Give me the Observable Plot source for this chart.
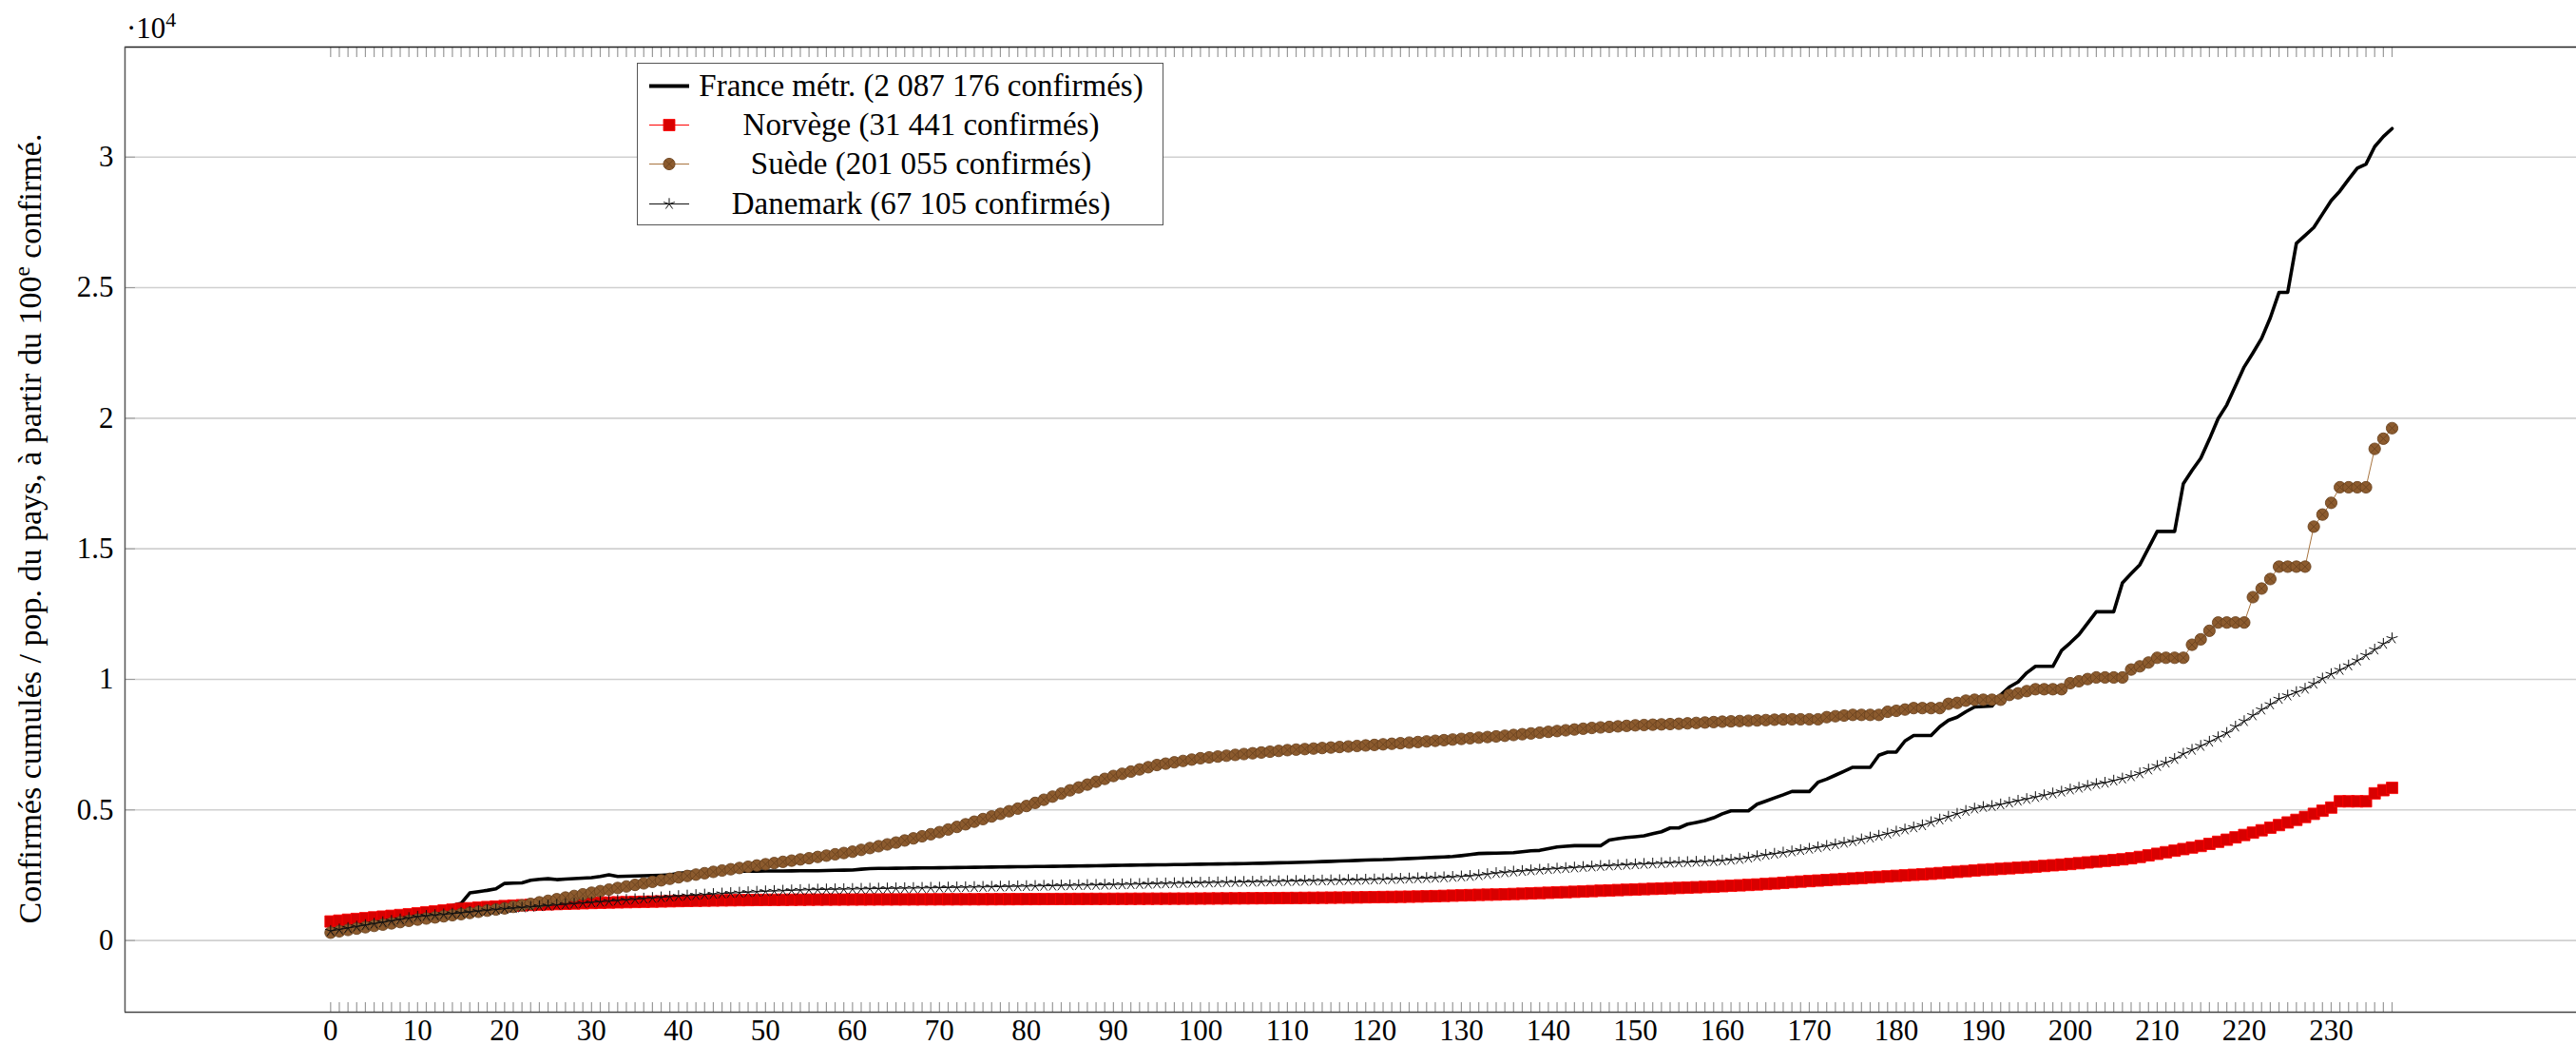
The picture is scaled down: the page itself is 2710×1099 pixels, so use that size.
<!DOCTYPE html>
<html><head><meta charset="utf-8">
<script src="https://cdn.jsdelivr.net/npm/d3@7"></script>
<script src="https://cdn.jsdelivr.net/npm/@observablehq/plot@0.6"></script>
<style>
html,body{margin:0;padding:0;background:#fff;}
#wrap{position:relative;width:2710px;height:1099px;font-family:"Liberation Serif",serif;color:#000;}
#legend{position:absolute;left:670px;top:66px;width:554px;height:171px;border:1.5px solid #555;background:#fff;box-sizing:border-box;}
.row{position:absolute;left:0;width:100%;height:41px;}
.row svg{position:absolute;left:10px;top:0;}
.row .lab{position:absolute;left:58px;width:480px;text-align:center;font-size:33px;line-height:41px;white-space:nowrap;}
</style></head><body><div id="wrap"></div>
<script>
// ---- data (values are confirmed cases per million inhabitants) ----
const countryNames = ["France métr.", "Norvège", "Suède", "Danemark"];
const countryTotals = ["2 087 176", "31 441", "201 055", "67 105"];

const franceValues = [
500,560,625,690,750,815,880,940,1000,1060,
1120,1180,1240,1290,1340,1420,1821,1870,1920,1979,
2185,2195,2209,2307,2340,2367,2331,2350,2370,2390,
2404,2450,2513,2452,2460,2470,2480,2490,2500,2513,
2570,2610,2618,2625,2630,2636,2646,2650,2654,2657,
2660,2662,2664,2666,2668,2670,2671,2680,2688,2695,
2700,2730,2750,2760,2764,2768,2770,2774,2778,2782,
2786,2790,2795,2799,2803,2808,2812,2816,2820,2824,
2828,2832,2836,2840,2845,2849,2854,2858,2863,2868,
2877,2880,2884,2888,2892,2896,2900,2905,2910,2915,
2920,2925,2930,2935,2940,2946,2952,2958,2966,2974,
2982,2990,3000,3010,3020,3030,3042,3055,3066,3078,
3090,3096,3110,3125,3140,3155,3170,3185,3200,3217,
3250,3290,3330,3339,3345,3352,3363,3400,3436,3450,
3520,3581,3610,3630,3630,3630,3630,3848,3900,3946,
3975,4006,4090,4164,4310,4310,4455,4520,4589,4700,
4850,4965,4965,4965,5220,5340,5463,5580,5706,5706,
5706,6060,6180,6330,6480,6632,6632,6632,7094,7215,
7215,7641,7848,7848,7848,8188,8431,8550,8760,8942,
8960,8979,9404,9708,9900,10250,10499,10499,10499,11107,
11400,11715,12150,12590,12590,12590,13697,14050,14390,15030,
15667,15667,15667,17491,18000,18463,19200,19988,20510,21240,
21966,22500,23058,23847,24818,24818,26699,27000,27306,27820,
28337,28701,29150,29575,29733,30400,30789,31092];

const norwayValues = [
728,760,795,825,855,886,915,945,975,1005,
1040,1080,1115,1150,1180,1210,1235,1258,1280,1300,
1318,1335,1350,1362,1374,1385,1396,1406,1416,1426,
1436,1445,1453,1461,1468,1475,1482,1489,1496,1503,
1510,1516,1522,1527,1532,1537,1541,1545,1548,1551,
1554,1556,1558,1560,1562,1564,1566,1567,1568,1569,
1570,1571,1572,1573,1574,1574,1575,1575,1576,1577,
1577,1578,1578,1579,1580,1580,1581,1582,1583,1584,
1585,1586,1587,1588,1589,1590,1591,1592,1593,1594,
1595,1596,1597,1598,1599,1600,1601,1602,1603,1604,
1606,1608,1610,1612,1614,1616,1618,1620,1622,1624,
1626,1628,1631,1634,1637,1640,1643,1646,1650,1655,
1660,1664,1668,1673,1678,1684,1691,1699,1708,1718,
1728,1738,1748,1755,1760,1770,1781,1792,1804,1816,
1828,1840,1852,1865,1878,1892,1906,1918,1930,1942,
1954,1966,1978,1990,2002,2014,2026,2038,2050,2064,
2080,2096,2112,2128,2145,2165,2185,2208,2232,2255,
2275,2295,2315,2335,2355,2375,2395,2415,2435,2455,
2475,2495,2515,2535,2555,2580,2605,2630,2655,2680,
2705,2725,2745,2765,2785,2805,2830,2855,2880,2905,
2930,2960,2990,3020,3050,3080,3110,3150,3200,3260,
3320,3380,3440,3500,3560,3620,3700,3780,3860,3950,
4040,4130,4220,4320,4420,4520,4620,4730,4850,4970,
5090,5330,5330,5330,5330,5635,5756,5845];

const swedenValues = [
300,352,404,456,508,560,608,656,704,752,
800,842,884,926,968,1010,1054,1098,1142,1186,
1230,1288,1346,1404,1462,1520,1582,1644,1706,1768,
1830,1890,1950,2010,2070,2130,2188,2246,2304,2362,
2420,2472,2524,2576,2628,2680,2728,2776,2824,2872,
2920,2966,3012,3058,3104,3150,3200,3250,3300,3350,
3400,3470,3540,3610,3680,3750,3830,3910,3990,4070,
4150,4250,4350,4450,4550,4650,4750,4850,4950,5050,
5150,5270,5390,5510,5630,5750,5860,5970,6080,6190,
6300,6384,6468,6552,6636,6720,6772,6824,6876,6928,
6980,7012,7044,7076,7108,7140,7170,7200,7230,7260,
7290,7310,7330,7350,7370,7390,7410,7430,7450,7470,
7490,7512,7534,7556,7578,7600,7624,7648,7672,7696,
7720,7744,7768,7792,7816,7840,7870,7900,7930,7960,
7990,8020,8050,8080,8110,8140,8160,8180,8200,8220,
8240,8252,8264,8276,8288,8300,8316,8332,8348,8364,
8380,8392,8404,8416,8428,8440,8455,8465,8470,8470,
8470,8470,8553,8589,8614,8640,8640,8640,8640,8760,
8796,8845,8900,8900,8900,8900,9064,9100,9185,9220,
9220,9220,9220,9404,9465,9550,9623,9623,9623,9623,
9854,9927,10012,10073,10073,10073,10073,10377,10499,10645,
10827,10827,10827,10827,11326,11533,11861,12177,12177,12177,
12177,13149,13478,13843,14317,14317,14317,14317,15849,16311,
16761,17357,17357,17357,17357,18828,19217,19620];

const denmarkValues = [
364,420,476,532,588,643,697,751,805,858,
910,940,970,1000,1028,1056,1088,1120,1152,1183,
1214,1238,1262,1286,1310,1335,1359,1383,1408,1432,
1457,1481,1505,1530,1554,1578,1602,1627,1651,1676,
1700,1720,1739,1758,1778,1797,1814,1831,1848,1865,
1882,1894,1906,1918,1930,1942,1948,1954,1960,1966,
1972,1977,1982,1987,1992,1997,2002,2007,2012,2017,
2022,2027,2033,2039,2045,2051,2057,2063,2069,2075,
2081,2087,2093,2099,2105,2111,2117,2123,2129,2135,
2141,2148,2155,2162,2170,2178,2185,2192,2199,2206,
2212,2218,2224,2230,2236,2242,2248,2254,2260,2266,
2272,2278,2284,2290,2296,2302,2308,2314,2320,2328,
2336,2343,2352,2362,2372,2382,2392,2404,2418,2434,
2452,2470,2500,2540,2580,2610,2636,2660,2685,2708,
2731,2752,2772,2792,2812,2832,2852,2868,2884,2900,
2916,2932,2946,2960,2974,2988,3000,3012,3024,3035,
3060,3090,3120,3170,3225,3278,3320,3365,3410,3460,
3510,3565,3620,3680,3740,3800,3870,3940,4010,4090,
4170,4250,4330,4410,4530,4630,4740,4850,4960,5050,
5110,5148,5210,5280,5350,5416,5490,5560,5630,5700,
5780,5850,5920,5990,6040,6120,6200,6290,6400,6546,
6680,6810,6950,7150,7300,7450,7610,7780,7945,8190,
8400,8620,8840,9040,9250,9380,9510,9640,9830,10030,
10200,10360,10530,10720,10924,11140,11360,11569];

const xTickValues = [0,10,20,30,40,50,60,70,80,90,100,110,120,130,140,150,160,170,180,190,200,210,220,230];
const yTickValues = [0,5000,10000,15000,20000,25000,30000];
const yTickLabels = ["0","0.5","1","1.5","2","2.5","3"];
const xDomain = [-23.64, 258.2];
const yDomain = [-2746, 34215];

// ---- styles ----
const colors = {france:"#000000", norway:"#ff0000", norwayFill:"#d80000", swedenLine:"#a8743f", swedenFill:"#8c5b2e", swedenStroke:"#6b431f", denmark:"#111111"};
const sizes = {norway: 6.8, sweden: 6.1, denmark: 6.2};

const toRows = (vals) => vals.map((v, i) => ({day: i, value: v}));
const france = toRows(franceValues), norway = toRows(norwayValues), sweden = toRows(swedenValues), denmark = toRows(denmarkValues);
const allDays = france.map(d => d.day);

const otimes = {draw(ctx, size){ const r = Math.sqrt(size/Math.PI); ctx.moveTo(r,0); ctx.arc(0,0,r,0,2*Math.PI); const k=r*0.7071; ctx.moveTo(-k,-k); ctx.lineTo(k,k); ctx.moveTo(-k,k); ctx.lineTo(k,-k);} };
const star = {draw(ctx, size){ const r = Math.sqrt(size/Math.PI); for(let i=0;i<5;i++){const a=-Math.PI/2+i*2*Math.PI/5; ctx.moveTo(0,0); ctx.lineTo(r*Math.cos(a), r*Math.sin(a));} } };

const chart = Plot.plot({
  width: 2710, height: 1099,
  marginTop: 49, marginBottom: 35, marginLeft: 131, marginRight: 0,
  x: {domain: xDomain},
  y: {domain: yDomain},
  style: {fontFamily: "'Liberation Serif', serif", fontSize: "31px", color: "#000", background: "#fff", overflow: "visible"},
  marks: [
    Plot.ruleY(yTickValues, {stroke: "#d0d0d0", strokeWidth: 1.6}),
    Plot.axisY({ticks: yTickValues, tickSize: 0, tickPadding: 12, tickFormat: (d) => yTickLabels[yTickValues.indexOf(d)], label: null}),
    Plot.axisY({ticks: yTickValues, tickSize: 11, dx: 11, tickFormat: () => "", label: null, stroke: "#999"}),
    Plot.axisX({ticks: xTickValues, tickSize: 0, tickPadding: 7, tickFormat: d => String(d), label: null}),
    Plot.axisX({anchor: "bottom", ticks: allDays, tickSize: 10, dy: -10, tickFormat: () => "", label: null, stroke: "#999", strokeWidth: 1.2}),
    Plot.axisX({anchor: "top", ticks: allDays, tickSize: 10, dy: 10, tickFormat: () => "", label: null, stroke: "#999", strokeWidth: 1.2}),
    Plot.ruleY([yDomain[0]], {stroke: "#444", strokeWidth: 1.5}),
    Plot.ruleY([yDomain[1]], {stroke: "#222", strokeWidth: 1.5}),
    Plot.ruleX([xDomain[0]], {stroke: "#555", strokeWidth: 1.5}),
    Plot.line(france, {x: "day", y: "value", stroke: colors.france, strokeWidth: 3.6}),
    Plot.line(norway, {x: "day", y: "value", stroke: colors.norway, strokeWidth: 1}),
    Plot.dot(norway, {x: "day", y: "value", symbol: "square", r: sizes.norway, fill: colors.norwayFill, stroke: colors.norway, strokeWidth: 0.8}),
    Plot.line(sweden, {x: "day", y: "value", stroke: colors.swedenLine, strokeWidth: 1}),
    Plot.dot(sweden, {x: "day", y: "value", symbol: otimes, r: sizes.sweden, fill: colors.swedenFill, stroke: colors.swedenStroke, strokeWidth: 0.9}),
    Plot.line(denmark, {x: "day", y: "value", stroke: colors.denmark, strokeWidth: 1}),
    Plot.dot(denmark, {x: "day", y: "value", symbol: star, r: sizes.denmark, fill: "none", stroke: colors.denmark, strokeWidth: 1})
  ]
});

const wrap = document.getElementById("wrap");
wrap.appendChild(chart);
const svg = d3.select(chart);

// y axis label
const yl = svg.append("text")
  .attr("transform", "translate(43,556) rotate(-90)")
  .attr("text-anchor", "middle")
  .attr("font-family", "'Liberation Serif', serif")
  .attr("font-size", 34)
  .attr("fill", "#000");
yl.append("tspan").text("Confirmés cumulés / pop. du pays, à partir du 100");
yl.append("tspan").attr("font-size", 23).attr("dy", -12).text("e");
yl.append("tspan").attr("dy", 12).text(" confirmé.");

// multiplier label
const ml = svg.append("text").attr("x", 133).attr("y", 40).attr("text-anchor", "start")
  .attr("font-family", "'Liberation Serif', serif").attr("font-size", 31).attr("fill", "#000");
ml.append("tspan").text("·10");
ml.append("tspan").attr("font-size", 22).attr("dy", -12).text("4");

// legend
const legend = d3.select(wrap).append("div").attr("id", "legend");
const kinds = ["france", "norway", "sweden", "denmark"];
kinds.forEach((k, i) => {
  const row = legend.append("div").attr("class", "row").style("top", (3 + i * 41.2) + "px");
  const s = row.append("svg").attr("width", 46).attr("height", 41);
  if (k === "france") {
    s.append("line").attr("x1", 2).attr("x2", 44).attr("y1", 20.5).attr("y2", 20.5).attr("stroke", colors.france).attr("stroke-width", 4);
  } else if (k === "norway") {
    s.append("line").attr("x1", 2).attr("x2", 44).attr("y1", 20.5).attr("y2", 20.5).attr("stroke", colors.norway).attr("stroke-width", 1);
    s.append("path").attr("transform", "translate(23,20.5)").attr("d", d3.symbol(d3.symbolSquare, Math.PI * sizes.norway * sizes.norway)()).attr("fill", colors.norwayFill).attr("stroke", colors.norway).attr("stroke-width", 0.8);
  } else if (k === "sweden") {
    s.append("line").attr("x1", 2).attr("x2", 44).attr("y1", 20.5).attr("y2", 20.5).attr("stroke", colors.swedenLine).attr("stroke-width", 1);
    s.append("path").attr("transform", "translate(23,20.5)").attr("d", d3.symbol(otimes, Math.PI * sizes.sweden * sizes.sweden)()).attr("fill", colors.swedenFill).attr("stroke", colors.swedenStroke).attr("stroke-width", 0.9);
  } else {
    s.append("line").attr("x1", 2).attr("x2", 44).attr("y1", 20.5).attr("y2", 20.5).attr("stroke", colors.denmark).attr("stroke-width", 1);
    s.append("path").attr("transform", "translate(23,20.5)").attr("d", d3.symbol(star, Math.PI * sizes.denmark * sizes.denmark)()).attr("fill", "none").attr("stroke", colors.denmark).attr("stroke-width", 1);
  }
  row.append("div").attr("class", "lab").text(countryNames[i] + " (" + countryTotals[i] + " confirmés)");
});
</script>
</body></html>
